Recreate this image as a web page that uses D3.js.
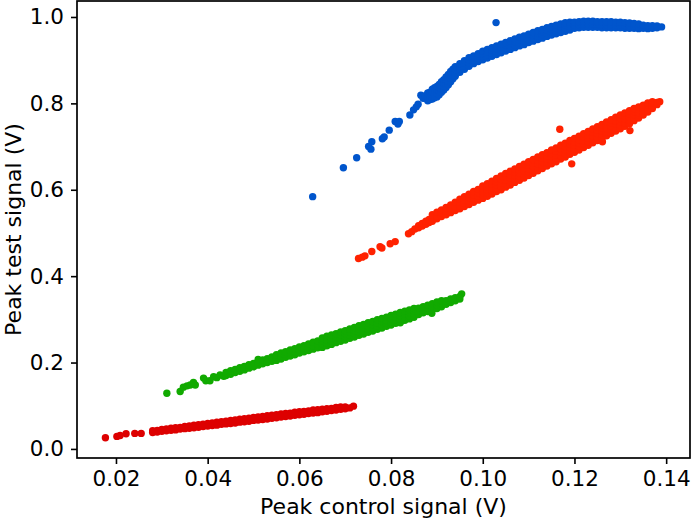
<!DOCTYPE html>
<html>
<head>
<meta charset="utf-8">
<script src="https://cdn.jsdelivr.net/npm/d3@7"></script>
<style>
    body { margin: 0; background: #fff; }
    #chart { width: 692px; height: 520px; }
    text { font-family: "DejaVu Sans", sans-serif; }
</style>
</head>
<body>
<div id="chart"></div>
<script>
// axis ticks
const xTicks = [0.02, 0.04, 0.06, 0.08, 0.10, 0.12, 0.14];
const yTicks = [0.0, 0.2, 0.4, 0.6, 0.8, 1.0];

// single points, [x, y]
const blueSingles = [
    [0.0629, 0.584], [0.0696, 0.651], [0.0725, 0.674], [0.0751, 0.700], [0.0756, 0.694],
    [0.0758, 0.711], [0.0781, 0.718], [0.0785, 0.722], [0.0796, 0.738], [0.0809, 0.758],
    [0.0818, 0.758], [0.0815, 0.752], [0.0841, 0.773], [0.0849, 0.785], [0.0855, 0.792],
    [0.0859, 0.798], [0.0865, 0.819], [0.0870, 0.812], [0.1029, 0.987]
];
const orangeSingles = [
    [0.0729, 0.441], [0.0737, 0.444], [0.0743, 0.447], [0.0758, 0.457], [0.0776, 0.468],
    [0.0780, 0.465], [0.0798, 0.475], [0.0809, 0.480], [0.0838, 0.498], [0.0845, 0.503],
    [0.1168, 0.740], [0.1194, 0.660], [0.1261, 0.711], [0.1321, 0.737]
];
const greenSingles = [
    [0.0311, 0.129], [0.0340, 0.133], [0.0347, 0.143], [0.0355, 0.146], [0.0362, 0.148],
    [0.0369, 0.154], [0.0373, 0.148], [0.0391, 0.164], [0.0396, 0.158], [0.0405, 0.158],
    [0.0413, 0.167], [0.0420, 0.165], [0.0427, 0.171], [0.0435, 0.168],
    [0.0820, 0.292], [0.0889, 0.314], [0.0954, 0.359]
];
const redSingles = [
    [0.0177, 0.026], [0.0202, 0.029], [0.0209, 0.031], [0.0222, 0.035], [0.0241, 0.036],
    [0.0255, 0.036], [0.0718, 0.099]
];

// dense bands, one column per x: [x, y1, y2, ...]
const blueBand = [
    [0.0875, 0.812, 0.818], [0.0880, 0.806, 0.815, 0.824], [0.0885, 0.809, 0.818, 0.826],
    [0.0890, 0.810, 0.818, 0.826, 0.833], [0.0895, 0.813, 0.821, 0.829, 0.836],
    [0.0900, 0.815, 0.823, 0.831, 0.839], [0.0905, 0.820, 0.828, 0.836, 0.844],
    [0.0910, 0.826, 0.834, 0.842, 0.850], [0.0915, 0.831, 0.839, 0.847, 0.855],
    [0.0920, 0.837, 0.845, 0.853, 0.861], [0.0925, 0.843, 0.851, 0.859, 0.867],
    [0.0930, 0.850, 0.858, 0.866, 0.874], [0.0935, 0.857, 0.864, 0.872, 0.879],
    [0.0940, 0.863, 0.870, 0.878, 0.885], [0.0950, 0.872, 0.879, 0.886, 0.892],
    [0.0960, 0.879, 0.886, 0.893, 0.899], [0.0970, 0.886, 0.893, 0.900, 0.906],
    [0.0980, 0.892, 0.899, 0.905, 0.910], [0.0990, 0.897, 0.904, 0.910, 0.915],
    [0.1000, 0.901, 0.908, 0.915, 0.921], [0.1010, 0.905, 0.912, 0.919, 0.925],
    [0.1020, 0.909, 0.916, 0.923, 0.929], [0.1030, 0.913, 0.920, 0.927, 0.933],
    [0.1040, 0.917, 0.924, 0.931, 0.937], [0.1050, 0.921, 0.928, 0.935, 0.941],
    [0.1060, 0.925, 0.932, 0.939, 0.945], [0.1070, 0.929, 0.936, 0.943, 0.949],
    [0.1080, 0.933, 0.940, 0.947, 0.953], [0.1090, 0.936, 0.943, 0.950, 0.956],
    [0.1100, 0.941, 0.948, 0.955, 0.960],
    [0.1110, 0.944, 0.951, 0.958, 0.964], [0.1120, 0.948, 0.955, 0.962, 0.968],
    [0.1130, 0.951, 0.958, 0.965, 0.971], [0.1140, 0.955, 0.962, 0.969, 0.975],
    [0.1150, 0.958, 0.965, 0.972, 0.978], [0.1160, 0.961, 0.968, 0.975, 0.981],
    [0.1170, 0.964, 0.971, 0.978, 0.984], [0.1180, 0.967, 0.974, 0.981, 0.987],
    [0.1190, 0.970, 0.977, 0.983, 0.988], [0.1200, 0.974, 0.981, 0.988],
    [0.1210, 0.975, 0.982, 0.989], [0.1220, 0.976, 0.983, 0.990], [0.1230, 0.976, 0.983, 0.990],
    [0.1240, 0.976, 0.983, 0.990], [0.1250, 0.976, 0.983, 0.989], [0.1260, 0.975, 0.982, 0.989],
    [0.1270, 0.975, 0.982, 0.989], [0.1280, 0.975, 0.982, 0.989], [0.1290, 0.975, 0.981, 0.988],
    [0.1300, 0.975, 0.981, 0.988], [0.1310, 0.974, 0.980, 0.987], [0.1320, 0.974, 0.980, 0.986],
    [0.1330, 0.974, 0.979, 0.985], [0.1340, 0.973, 0.978, 0.984], [0.1350, 0.974, 0.981],
    [0.1360, 0.973, 0.980], [0.1370, 0.974, 0.980], [0.1380, 0.975, 0.979], [0.1390, 0.977]
];
const orangeBand = [
    [0.0852, 0.509], [0.0860, 0.512, 0.517], [0.0868, 0.516, 0.522], [0.0876, 0.520, 0.527],
    [0.0883, 0.524, 0.531], [0.0890, 0.527, 0.535, 0.542], [0.0900, 0.533, 0.540, 0.548],
    [0.0910, 0.538, 0.546, 0.553], [0.0920, 0.542, 0.551, 0.559], [0.0930, 0.547, 0.556, 0.565],
    [0.0940, 0.552, 0.562, 0.571], [0.0950, 0.556, 0.563, 0.571, 0.578],
    [0.0960, 0.561, 0.569, 0.577, 0.584], [0.0970, 0.566, 0.574, 0.582, 0.590],
    [0.0980, 0.571, 0.579, 0.588, 0.596], [0.0990, 0.576, 0.585, 0.593, 0.601],
    [0.1000, 0.580, 0.588, 0.595, 0.602, 0.609], [0.1010, 0.585, 0.593, 0.600, 0.607, 0.614],
    [0.1020, 0.590, 0.598, 0.605, 0.613, 0.620], [0.1030, 0.596, 0.603, 0.611, 0.618, 0.626],
    [0.1040, 0.600, 0.608, 0.616, 0.624, 0.632], [0.1050, 0.606, 0.614, 0.622, 0.630, 0.638],
    [0.1060, 0.611, 0.619, 0.627, 0.635, 0.643], [0.1070, 0.617, 0.625, 0.633, 0.641, 0.648],
    [0.1080, 0.622, 0.630, 0.638, 0.646, 0.654], [0.1090, 0.627, 0.635, 0.643, 0.651, 0.659],
    [0.1100, 0.633, 0.641, 0.649, 0.657, 0.665], [0.1110, 0.638, 0.646, 0.654, 0.662, 0.670],
    [0.1120, 0.644, 0.652, 0.660, 0.668, 0.676], [0.1130, 0.649, 0.657, 0.665, 0.673, 0.681],
    [0.1140, 0.655, 0.663, 0.671, 0.679, 0.686], [0.1150, 0.660, 0.668, 0.676, 0.684, 0.692],
    [0.1160, 0.665, 0.673, 0.681, 0.689, 0.697], [0.1170, 0.671, 0.679, 0.687, 0.695, 0.703],
    [0.1180, 0.676, 0.684, 0.692, 0.700, 0.708], [0.1190, 0.682, 0.690, 0.698, 0.706, 0.714],
    [0.1200, 0.687, 0.695, 0.703, 0.711, 0.719], [0.1210, 0.692, 0.700, 0.708, 0.716, 0.724],
    [0.1220, 0.698, 0.706, 0.714, 0.722, 0.730], [0.1230, 0.703, 0.711, 0.719, 0.727, 0.735],
    [0.1240, 0.709, 0.717, 0.725, 0.733, 0.741], [0.1250, 0.714, 0.722, 0.730, 0.738, 0.746],
    [0.1260, 0.720, 0.728, 0.736, 0.744, 0.751], [0.1270, 0.725, 0.733, 0.741, 0.749, 0.757],
    [0.1280, 0.731, 0.739, 0.747, 0.755, 0.762], [0.1290, 0.736, 0.744, 0.752, 0.760, 0.768],
    [0.1300, 0.741, 0.749, 0.757, 0.765, 0.773], [0.1310, 0.747, 0.755, 0.763, 0.771, 0.778],
    [0.1320, 0.753, 0.761, 0.768, 0.776, 0.783], [0.1330, 0.760, 0.767, 0.774, 0.781, 0.788],
    [0.1340, 0.766, 0.773, 0.779, 0.786, 0.792], [0.1350, 0.773, 0.779, 0.785, 0.791, 0.796],
    [0.1360, 0.780, 0.786, 0.791, 0.797, 0.801], [0.1370, 0.788, 0.794, 0.800, 0.804],
    [0.1380, 0.797, 0.802], [0.1386, 0.804]
];
const greenBand = [
    [0.0440, 0.170, 0.177], [0.0450, 0.173, 0.181], [0.0460, 0.177, 0.184], [0.0470, 0.180, 0.188],
    [0.0480, 0.183, 0.191], [0.0490, 0.187, 0.195], [0.0500, 0.190, 0.198], [0.0510, 0.194, 0.202, 0.207],
    [0.0520, 0.197, 0.206], [0.0530, 0.200, 0.209], [0.0540, 0.203, 0.213],
    [0.0550, 0.205, 0.212, 0.218], [0.0560, 0.208, 0.215, 0.222], [0.0570, 0.212, 0.219, 0.225],
    [0.0580, 0.215, 0.222, 0.229], [0.0590, 0.218, 0.225, 0.232], [0.0600, 0.222, 0.229, 0.236],
    [0.0610, 0.225, 0.232, 0.239], [0.0620, 0.228, 0.236, 0.243], [0.0630, 0.231, 0.239, 0.247],
    [0.0640, 0.234, 0.242, 0.250], [0.0650, 0.235, 0.243, 0.250, 0.257],
    [0.0660, 0.239, 0.246, 0.253, 0.261], [0.0670, 0.242, 0.249, 0.257, 0.264],
    [0.0680, 0.246, 0.253, 0.260, 0.267], [0.0690, 0.249, 0.256, 0.264, 0.271],
    [0.0700, 0.252, 0.260, 0.267, 0.274], [0.0710, 0.256, 0.263, 0.271, 0.278],
    [0.0720, 0.259, 0.267, 0.274, 0.281], [0.0730, 0.263, 0.270, 0.278, 0.285],
    [0.0740, 0.266, 0.274, 0.281, 0.288], [0.0750, 0.270, 0.277, 0.284, 0.292],
    [0.0760, 0.273, 0.281, 0.288, 0.295], [0.0770, 0.277, 0.284, 0.291, 0.299],
    [0.0780, 0.280, 0.287, 0.295, 0.302], [0.0790, 0.284, 0.291, 0.298, 0.305],
    [0.0800, 0.287, 0.294, 0.302, 0.309], [0.0810, 0.291, 0.298, 0.305, 0.312],
    [0.0820, 0.294, 0.301, 0.309, 0.316], [0.0830, 0.298, 0.305, 0.312, 0.319],
    [0.0840, 0.301, 0.308, 0.315, 0.322], [0.0850, 0.305, 0.312, 0.319, 0.325],
    [0.0860, 0.311, 0.319, 0.326], [0.0870, 0.315, 0.322, 0.329], [0.0880, 0.318, 0.326, 0.333],
    [0.0890, 0.322, 0.329, 0.336], [0.0900, 0.325, 0.333, 0.340], [0.0910, 0.329, 0.336, 0.343],
    [0.0920, 0.335, 0.343], [0.0930, 0.339, 0.347], [0.0940, 0.343, 0.350], [0.0950, 0.347, 0.353]
];
const redBand = [
    [0.0280, 0.038, 0.042], [0.0290, 0.039, 0.043], [0.0300, 0.041, 0.045], [0.0310, 0.042, 0.046],
    [0.0320, 0.043, 0.048], [0.0330, 0.044, 0.049], [0.0340, 0.046, 0.050], [0.0350, 0.047, 0.052],
    [0.0360, 0.048, 0.053], [0.0370, 0.049, 0.055], [0.0380, 0.050, 0.056], [0.0390, 0.052, 0.057],
    [0.0400, 0.053, 0.059], [0.0410, 0.054, 0.060], [0.0420, 0.055, 0.062], [0.0430, 0.057, 0.063],
    [0.0440, 0.058, 0.064], [0.0450, 0.059, 0.066], [0.0460, 0.060, 0.067], [0.0470, 0.062, 0.069],
    [0.0480, 0.063, 0.070], [0.0490, 0.064, 0.071], [0.0500, 0.066, 0.073], [0.0510, 0.067, 0.074],
    [0.0520, 0.068, 0.075], [0.0530, 0.069, 0.077], [0.0540, 0.071, 0.078], [0.0550, 0.072, 0.079],
    [0.0560, 0.074, 0.081], [0.0570, 0.075, 0.082], [0.0580, 0.076, 0.083], [0.0590, 0.078, 0.085],
    [0.0600, 0.079, 0.086], [0.0610, 0.080, 0.087], [0.0620, 0.082, 0.088], [0.0630, 0.083, 0.090],
    [0.0640, 0.084, 0.091], [0.0650, 0.086, 0.092], [0.0660, 0.087, 0.093], [0.0670, 0.089, 0.094],
    [0.0680, 0.090, 0.096], [0.0690, 0.092, 0.097], [0.0700, 0.093, 0.097], [0.0710, 0.095]
];

const seriesColors = ["#0055cc", "#ff2200", "#11aa00", "#dd0000"];

class ScatterChart {
    constructor(parentElement) {
        this.parentElement = parentElement;
        this.initVis();
    }

    initVis() {
        let vis = this;

        vis.margin = { top: 1, right: 2, bottom: 62, left: 77 };
        vis.width = 692 - vis.margin.left - vis.margin.right;
        vis.height = 520 - vis.margin.top - vis.margin.bottom;

        vis.svg = d3.select(`#${vis.parentElement}`).append("svg")
            .attr("width", 692)
            .attr("height", 520)
            .append("g")
            .attr("transform", `translate(${vis.margin.left},${vis.margin.top})`);

        vis.x = d3.scaleLinear().domain([0.0115, 0.1452]).range([0, vis.width]);
        vis.y = d3.scaleLinear().domain([-0.021, 1.037]).range([vis.height, 0]);

        vis.xAxis = d3.axisBottom(vis.x).tickValues(xTicks).tickFormat(d3.format(".2f"))
            .tickSize(6).tickPadding(7);
        vis.yAxis = d3.axisLeft(vis.y).tickValues(yTicks).tickFormat(d3.format(".1f"))
            .tickSize(6).tickPadding(7);

        // Axis labels
        vis.svg.append("text")
            .attr("x", vis.width / 2)
            .attr("y", 513)
            .attr("text-anchor", "middle")
            .attr("font-size", "22px")
            .text("Peak control signal (V)");

        vis.svg.append("text")
            .attr("transform", "rotate(-90)")
            .attr("x", -vis.height / 2)
            .attr("y", -56.5)
            .attr("text-anchor", "middle")
            .attr("font-size", "22px")
            .text("Peak test signal (V)");

        vis.updateVis();
    }

    updateVis() {
        let vis = this;
        const toPoints = cols => cols.flatMap(([x, ...ys]) => ys.map(y => [x, y]));

        vis.displayData = [
            blueSingles.concat(toPoints(blueBand)),
            orangeSingles.concat(toPoints(orangeBand)),
            greenSingles.concat(toPoints(greenBand)),
            redSingles.concat(toPoints(redBand))
        ];

        vis.displayData.forEach((pts, i) => {
            vis.svg.append("g")
                .selectAll("circle")
                .data(pts)
                .enter().append("circle")
                .attr("cx", d => vis.x(d[0]))
                .attr("cy", d => vis.y(d[1]))
                .attr("r", 3.7)
                .attr("fill", seriesColors[i]);
        });

        // Axes
        let gx = vis.svg.append("g")
            .attr("transform", `translate(0,${vis.height})`)
            .call(vis.xAxis);
        let gy = vis.svg.append("g").call(vis.yAxis);
        [gx, gy].forEach(g => {
            g.select(".domain").remove();
            g.selectAll(".tick line").attr("stroke", "#000").attr("stroke-width", 1.6);
            g.selectAll(".tick text").attr("fill", "#000").attr("font-size", "21.5px")
                .attr("font-family", "DejaVu Sans, sans-serif");
        });

        // Frame
        vis.svg.append("rect")
            .attr("width", vis.width)
            .attr("height", vis.height)
            .attr("fill", "none")
            .attr("stroke", "#000")
            .attr("stroke-width", 1.7);
    }
}

new ScatterChart("chart");
</script>
</body>
</html>
